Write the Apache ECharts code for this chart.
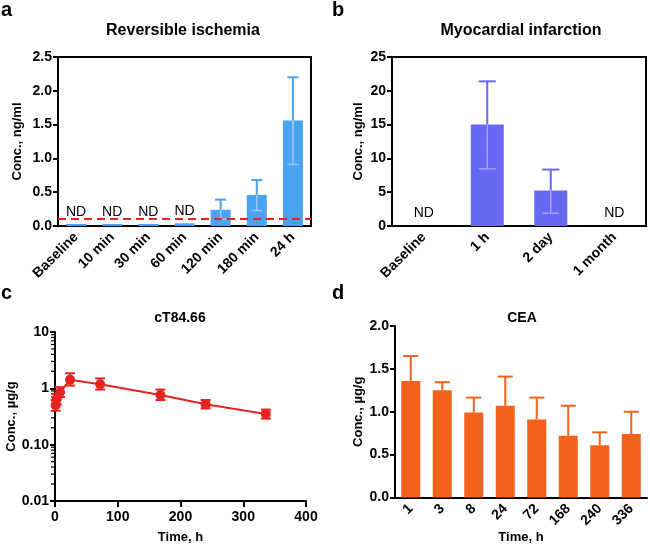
<!DOCTYPE html>
<html><head><meta charset="utf-8">
<script src="https://cdn.jsdelivr.net/npm/echarts@6/dist/echarts.min.js"></script>
<style>html,body{margin:0;padding:0;background:#fff}#c{width:650px;height:545px}</style>
</head><body><div id="c"></div>
<script>
// Panel a
const aCats = ['Baseline','10 min','30 min','60 min','120 min','180 min','24 h'];
const aMean = [0.03,0.03,0.03,0.04,0.24,0.46,1.56];
const aHigh = [null,null,null,null,0.39,0.68,2.2];
const aLow  = [null,null,null,null,0.10,0.23,0.91];
const aND   = [true,true,true,true,false,false,false];
const aLOD  = 0.1;
// Panel b
const bCats = ['Baseline','1 h','2 day','1 month'];
const bMean = [0,15.0,5.25,0];
const bHigh = [null,21.4,8.35,null];
const bLow  = [null,8.45,1.9,null];
const bND   = [true,false,false,true];
// Panel c
const cTime = [1,3,8,24,72,168,240,336];
const cMean = [0.5,0.65,0.85,1.42,1.18,0.76,0.52,0.35];
const cHigh = [0.62,0.8,1.05,1.85,1.5,0.95,0.62,0.42];
const cLow  = [0.4,0.52,0.7,1.12,0.95,0.62,0.44,0.29];
const cMinor = [0.02,0.03,0.04,0.05,0.06,0.07,0.08,0.09,0.2,0.3,0.4,0.5,0.6,0.7,0.8,0.9,2,3,4,5,6,7,8,9];
// Panel d
const dCats = ['1','3','8','24','72','168','240','336'];
const dMean = [1.36,1.25,0.99,1.07,0.91,0.72,0.61,0.74];
const dHigh = [1.65,1.345,1.165,1.41,1.165,1.07,0.76,1.0];

const FONT = '"Liberation Sans", Arial, sans-serif';
const blue = '#4aa2f2', blueLight = '#9ccbf6';
const purple = '#6767f6', purpleLight = '#a3a3fa';
const red = '#e8221e';
const orange = '#f2621b';

function errRender(color, cap, width) {
  return function (params, api) {
    const x = api.value(0), from = api.value(1), to = api.value(2);
    const p1 = api.coord([x, from]), p2 = api.coord([x, to]);
    return {type: 'group', children: [
      {type: 'line', shape: {x1: p1[0], y1: p1[1], x2: p2[0], y2: p2[1]}, style: {stroke: color, lineWidth: width}},
      {type: 'line', shape: {x1: p2[0] - cap / 2, y1: p2[1], x2: p2[0] + cap / 2, y2: p2[1]}, style: {stroke: color, lineWidth: width}}
    ]};
  };
}
function errData(mean, hi) {
  const out = [];
  mean.forEach((m, i) => { if (hi[i] != null) out.push([i, m, hi[i]]); });
  return out;
}

const axisLine = {lineStyle: {color: '#000', width: 2}};
const axisTick = {lineStyle: {color: '#000', width: 2}, length: 5};
const lbl = {color: '#000', fontFamily: FONT, fontWeight: 'bold', fontSize: 14};
const nameStyle = {color: '#000', fontFamily: FONT, fontWeight: 'bold', fontSize: 13};

function titleAt(text, x, y, size, align) {
  return {text: text, left: x, top: y, textAlign: align || 'center', padding: 0,
    textStyle: {fontFamily: FONT, fontWeight: 'bold', fontSize: size, color: '#000'}};
}

const chart = echarts.init(document.getElementById('c'));
chart.setOption({
  animation: false,
  backgroundColor: '#fff',
  title: [
    titleAt('a', 1, 0, 20, 'left'),
    titleAt('b', 332, 0, 20, 'left'),
    titleAt('c', 1, 283, 20, 'left'),
    titleAt('d', 332, 283, 20, 'left'),
    titleAt('Reversible ischemia', 183, 23, 16),
    titleAt('Myocardial infarction', 521, 23, 16),
    titleAt('cT84.66', 180, 311, 14),
    titleAt('CEA', 522, 311, 14)
  ],
  grid: [
    {left: 58, top: 57, width: 253, height: 169, show: true, borderColor: '#000', borderWidth: 2, backgroundColor: 'transparent'},
    {left: 392, top: 57, width: 254, height: 169, show: true, borderColor: '#000', borderWidth: 2, backgroundColor: 'transparent'},
    {left: 55, top: 332, width: 251, height: 169},
    {left: 395, top: 326, width: 252, height: 174}
  ],
  xAxis: [
    {gridIndex: 0, type: 'category', data: aCats, axisLine: axisLine,
     axisTick: {alignWithLabel: true, length: 6, lineStyle: axisTick.lineStyle},
     axisLabel: Object.assign({rotate: 45, margin: 9, interval: 0}, lbl)},
    {gridIndex: 1, type: 'category', data: bCats, axisLine: axisLine,
     axisTick: {alignWithLabel: true, length: 6, lineStyle: axisTick.lineStyle},
     axisLabel: Object.assign({rotate: 45, margin: 9, interval: 0}, lbl)},
    {gridIndex: 2, type: 'value', min: 0, max: 400, interval: 100, axisLine: axisLine,
     axisTick: {length: 6, lineStyle: axisTick.lineStyle}, splitLine: {show: false},
     axisLabel: Object.assign({margin: 9}, lbl),
     name: 'Time, h', nameLocation: 'middle', nameGap: 30, nameTextStyle: nameStyle},
    {gridIndex: 3, type: 'category', data: dCats, axisLine: axisLine,
     axisTick: {alignWithLabel: true, length: 6, lineStyle: axisTick.lineStyle},
     axisLabel: Object.assign({rotate: 45, margin: 9, interval: 0}, lbl),
     name: 'Time, h', nameLocation: 'middle', nameGap: 30, nameTextStyle: nameStyle}
  ],
  yAxis: [
    {gridIndex: 0, type: 'value', min: 0, max: 2.5, interval: 0.5, axisLine: Object.assign({show: true}, axisLine),
     axisTick: Object.assign({show: true}, axisTick), splitLine: {show: false},
     axisLabel: Object.assign({margin: 6, formatter: v => v.toFixed(1)}, lbl),
     name: 'Conc., ng/ml', nameLocation: 'middle', nameGap: 34, nameTextStyle: nameStyle},
    {gridIndex: 1, type: 'value', min: 0, max: 25, interval: 5, axisLine: Object.assign({show: true}, axisLine),
     axisTick: Object.assign({show: true}, axisTick), splitLine: {show: false},
     axisLabel: Object.assign({margin: 6}, lbl),
     name: 'Conc., ng/ml', nameLocation: 'middle', nameGap: 27, nameTextStyle: nameStyle},
    {gridIndex: 2, type: 'log', logBase: 10, min: 0.01, max: 10, axisLine: Object.assign({show: true}, axisLine),
     axisTick: Object.assign({show: true}, axisTick), splitLine: {show: false}, minorTick: {show: false},
     axisLabel: Object.assign({margin: 6, formatter: v => v >= 1 ? String(Math.round(v)) : v.toFixed(2)}, lbl),
     name: 'Conc., µg/g', nameLocation: 'middle', nameGap: 37, nameTextStyle: nameStyle},
    {gridIndex: 3, type: 'value', min: 0, max: 2, interval: 0.5, axisLine: Object.assign({show: true}, axisLine),
     axisTick: Object.assign({show: true}, axisTick), splitLine: {show: false},
     axisLabel: Object.assign({margin: 6, formatter: v => v.toFixed(1)}, lbl),
     name: 'Conc., µg/g', nameLocation: 'middle', nameGap: 30, nameTextStyle: nameStyle}
  ],
  series: [
    // a
    {type: 'bar', xAxisIndex: 0, yAxisIndex: 0, barWidth: 20, itemStyle: {color: blue},
     data: aMean.map((v, i) => ({value: v, label: {show: aND[i], position: 'top', distance: 5, formatter: 'ND',
       color: '#000', fontFamily: FONT, fontSize: 14}})),
     markLine: {silent: true, symbol: 'none', label: {show: false},
       lineStyle: {color: '#e8221e', type: [8, 5], width: 2}, data: [{yAxis: aLOD}]}},
    {type: 'custom', xAxisIndex: 0, yAxisIndex: 0, renderItem: errRender(blue, 11, 2), data: errData(aMean, aHigh), encode: {x: 0, y: [1, 2]}, z: 3},
    {type: 'custom', xAxisIndex: 0, yAxisIndex: 0, renderItem: errRender(blueLight, 11, 1.5), data: errData(aMean, aLow), encode: {x: 0, y: [1, 2]}, z: 3},
    // b
    {type: 'bar', xAxisIndex: 1, yAxisIndex: 1, barWidth: 33, itemStyle: {color: purple},
     data: bMean.map((v, i) => ({value: v, label: {show: bND[i], position: 'top', distance: 6, formatter: 'ND',
       color: '#000', fontFamily: FONT, fontSize: 14}}))},
    {type: 'custom', xAxisIndex: 1, yAxisIndex: 1, renderItem: errRender(purple, 17, 2), data: errData(bMean, bHigh), encode: {x: 0, y: [1, 2]}, z: 3},
    {type: 'custom', xAxisIndex: 1, yAxisIndex: 1, renderItem: errRender(purpleLight, 17, 1.5), data: errData(bMean, bLow), encode: {x: 0, y: [1, 2]}, z: 3},
    // c
    {type: 'custom', xAxisIndex: 2, yAxisIndex: 2, silent: true, clip: false,
     renderItem: function (params, api) {
       const p = api.coord([0, api.value(1)]);
       return {type: 'line', shape: {x1: p[0] - 4, y1: p[1], x2: p[0], y2: p[1]}, style: {stroke: '#000', lineWidth: 1.2}};
     }, data: cMinor.map(v => [0, v]), encode: {x: 0, y: 1}},
    {type: 'custom', xAxisIndex: 2, yAxisIndex: 2, z: 3,
     renderItem: function (params, api) {
       const x = api.value(0);
       const pl = api.coord([x, api.value(1)]), ph = api.coord([x, api.value(2)]);
       const cap = 10, st = {stroke: red, lineWidth: 2};
       return {type: 'group', children: [
         {type: 'line', shape: {x1: pl[0], y1: pl[1], x2: ph[0], y2: ph[1]}, style: st},
         {type: 'line', shape: {x1: ph[0] - cap / 2, y1: ph[1], x2: ph[0] + cap / 2, y2: ph[1]}, style: st},
         {type: 'line', shape: {x1: pl[0] - cap / 2, y1: pl[1], x2: pl[0] + cap / 2, y2: pl[1]}, style: st}
       ]};
     }, data: cTime.map((t, i) => [t, cLow[i], cHigh[i]]), encode: {x: 0, y: [1, 2]}},
    {type: 'line', xAxisIndex: 2, yAxisIndex: 2, z: 4, symbol: 'circle', symbolSize: 10,
     itemStyle: {color: red}, lineStyle: {color: red, width: 2},
     data: cTime.map((t, i) => [t, cMean[i]])},
    // d
    {type: 'bar', xAxisIndex: 3, yAxisIndex: 3, barWidth: 19, itemStyle: {color: orange}, data: dMean},
    {type: 'custom', xAxisIndex: 3, yAxisIndex: 3, renderItem: errRender(orange, 15, 2), data: errData(dMean, dHigh), encode: {x: 0, y: [1, 2]}, z: 3}
  ]
});
</script></body></html>
